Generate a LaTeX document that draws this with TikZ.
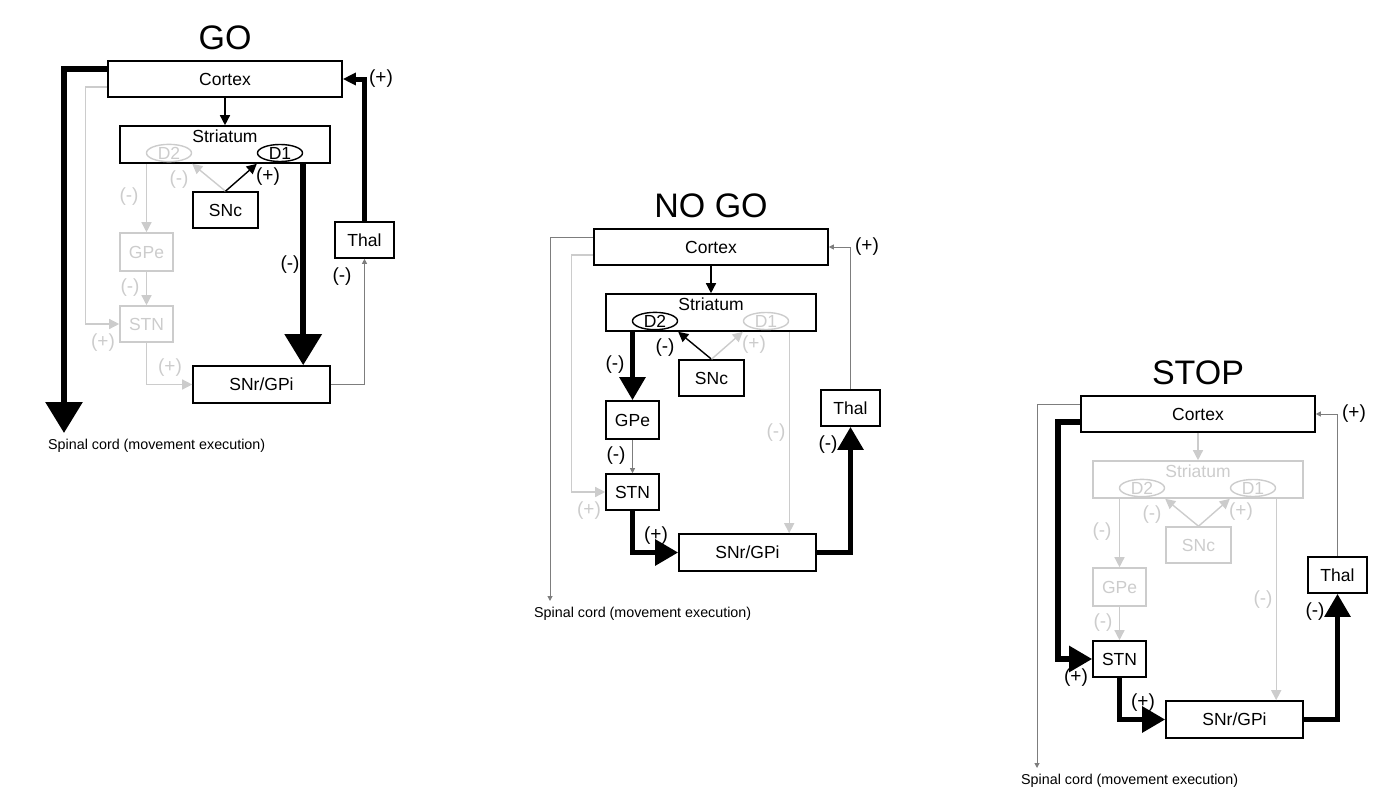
\documentclass[tikz,border=0pt]{standalone}
\usepackage{fontspec}
\setmainfont{Liberation Sans}
\usetikzlibrary{arrows.meta,positioning,shapes.geometric}
\definecolor{OffGray}{RGB}{204,204,204}
\definecolor{MidGray}{RGB}{125,125,125}
\tikzset{
  bbox/.style={draw,line width=1.6pt,minimum height=36pt,inner sep=0pt,
               font=\fontsize{17.5}{20}\selectfont},
  dell/.style={ellipse,draw,line width=1.4pt,minimum width=45pt,minimum height=17pt,
               inner sep=0pt,font=\fontsize{17.5}{20}\selectfont},
  lbl/.style={inner sep=0pt,font=\fontsize{19}{21}\selectfont},
  ttl/.style={inner sep=0pt,font=\fontsize{34}{36}\selectfont},
  sarr/.style={-{Triangle[length=10pt,width=10pt]},line width=1.4pt},
  garr/.style={sarr,OffGray},
  tarr/.style={-{Triangle[length=5pt,width=5pt]},line width=1pt,MidGray},
  karr/.style={-{Triangle[length=23pt,width=25pt]},line width=5.5pt,black},
  kbig/.style={-{Triangle[length=31pt,width=36pt]},line width=6pt,black},
  kmed/.style={-{Triangle[length=13pt,width=12pt]},line width=5pt,black},
}
% one panel: #1 shift, #2 title, #3 prefix, #4 pathway styles
\newcommand{\bgpanel}[4]{%
\begin{scope}[shift={#1},name prefix=#3-,#4]
  \node[ttl] (title) at (225,38) {#2};
  \node[bbox,minimum width=234pt] (ctx) at (225,79) {Cortex};
  \node[bbox,pC,minimum width=210pt,minimum height=37pt] (str) at (225,144.5) {};
  \node[pC,inner sep=0pt,font=\fontsize{17.5}{20}\selectfont] (strt) at (225,136) {Striatum};
  \node[dell,pB] (d2) at (169,153) {D2};
  \node[dell,pA] (d1) at (280,153) {D1};
  \node[bbox,pC,minimum width=65pt] (snc) at (225.5,210) {SNc};
  \node[bbox,pB,minimum width=53pt,minimum height=38pt] (gpe) at (146.5,252) {GPe};
  \node[bbox,pS,minimum width=53pt] (stn) at (146.5,324) {STN};
  \node[bbox,minimum width=137pt,minimum height=37pt] (snr) at (261.5,384.5) {SNr/GPi};
  \node[bbox,minimum width=59pt] (thal) at (364.5,240) {Thal};
  \node[anchor=west,inner sep=0pt,font=\fontsize{14.3}{16}\selectfont] (spc) at (48,446)
    {Spinal cord (movement execution)};
  \coordinate (spe) at (64,433);
  % connectors
  \draw[spn] ([yshift=10pt]ctx.west) -| (spe);
  \draw[hyp] ([yshift=-8pt]ctx.west) -- ++(-22,0) |- (stn.west);
  \draw[sarr,pC] (ctx) -- (str);
  \draw[sarr,pB] (snc.north) -- (str.south -| d2.east);
  \draw[sarr,pA] (snc.north) -- (str.south -| d1.west);
  \draw[d2gpe] (str.south -| gpe) -- (gpe);
  \draw[gpestn] (gpe) -- (stn);
  \draw[stnsnr] (stn) |- (snr);
  \draw[d1snr] (str.south -| d1.east) -- (snr.north -| d1.east);
  \draw[snrthal] (snr) -| (thal);
  \draw[thalctx] (thal) |- (ctx);
  % labels
  \node[lbl,pH] (hypl) at (103,343) {(+)};
  \node[lbl,pB] (d2gpel) at (129,197) {(-)};
  \node[lbl,pB] (gpestnl) at (130,288) {(-)};
  \node[lbl,pS] (stnsnrl) at (170,368) {(+)};
  \node[lbl,pB] (sncd2l) at (179,180) {(-)};
  \node[lbl,pA] (sncd1l) at (268,177) {(+)};
  \node[lbl,pA] (d1snrl) at (290,265) {(-)};
  \node[lbl] (snrthall) at (342,277) {(-)};
  \node[lbl] (thalctxl) at (381,79) {(+)};
\end{scope}}

\begin{document}
\begin{tikzpicture}[x=1pt,y=-1pt]
  \useasboundingbox (0,0) rectangle (1393,798);
  \bgpanel{(0,0)}{GO}{go}{pA/.style={black},pB/.style={OffGray},pC/.style={black},
    pS/.style={OffGray},pH/.style={OffGray},spn/.style=kbig,hyp/.style=garr,
    d2gpe/.style=garr,gpestn/.style=garr,stnsnr/.style=garr,d1snr/.style=kbig,
    snrthal/.style=tarr,thalctx/.style=kmed}
  \bgpanel{(486,168)}{NO GO}{nogo}{pA/.style={OffGray},pB/.style={black},pC/.style={black},
    pS/.style={black},pH/.style={OffGray},spn/.style=tarr,hyp/.style=garr,
    d2gpe/.style=karr,gpestn/.style=tarr,stnsnr/.style=karr,d1snr/.style=garr,
    snrthal/.style=karr,thalctx/.style=tarr}
  \bgpanel{(973,335)}{STOP}{stop}{pA/.style={OffGray},pB/.style={OffGray},pC/.style={OffGray},
    pS/.style={black},pH/.style={black},spn/.style=tarr,hyp/.style=karr,
    d2gpe/.style=garr,gpestn/.style=garr,stnsnr/.style=karr,d1snr/.style=garr,
    snrthal/.style=karr,thalctx/.style=tarr}
\end{tikzpicture}
\end{document}
